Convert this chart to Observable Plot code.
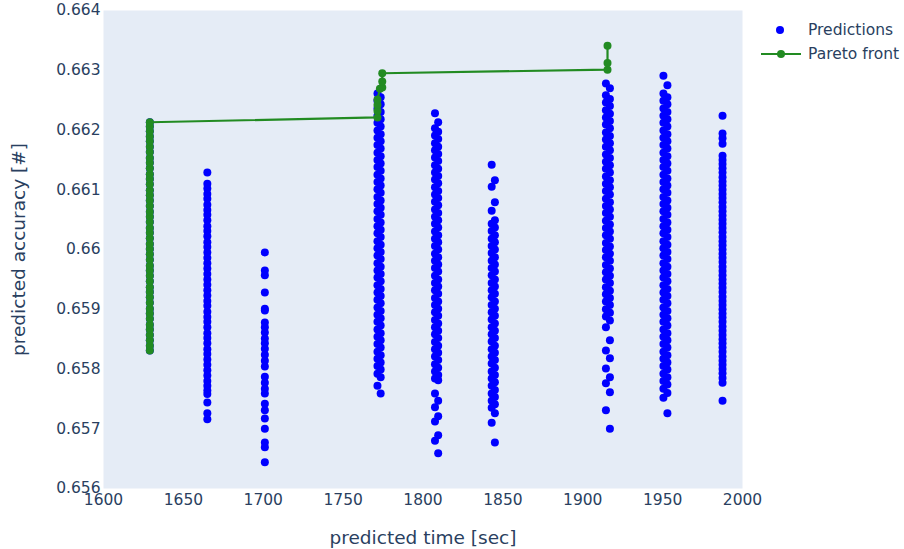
<!DOCTYPE html>
<html><head><meta charset="utf-8">
<script src="https://cdn.jsdelivr.net/npm/d3@7"></script>
<script src="https://cdn.jsdelivr.net/npm/@observablehq/plot@0.6"></script>
<style>
body{margin:0;background:#fff;font-family:"DejaVu Sans",sans-serif;}
#wrap{position:relative;width:904px;height:549px;}
#legend{position:absolute;left:760px;top:18px;color:#2a3f5f;font-size:15.5px;font-family:"DejaVu Sans",sans-serif;}
.row{display:flex;align-items:center;height:24px;}
.row span{margin-left:7px;line-height:24px;}
</style></head><body>
<div id="wrap"><div id="chart"></div><div id="legend"></div></div>
<script>
const xTitle = "predicted time [sec]";
const yTitle = "predicted accuracy [#]";
const seriesNames = ["Predictions", "Pareto front"];
const seriesColors = ["#0000ff", "#228b22"];
const xTicks = [1600, 1650, 1700, 1750, 1800, 1850, 1900, 1950, 2000];
const xTickLabels = ["1600", "1650", "1700", "1750", "1800", "1850", "1900", "1950", "2000"];
const yTicks = [0.656, 0.657, 0.658, 0.659, 0.66, 0.661, 0.662, 0.663, 0.664];
const yTickLabels = ["0.656", "0.657", "0.658", "0.659", "0.66", "0.661", "0.662", "0.663", "0.664"];

// predicted time of each column (sub-positions inside a column)
const columnTimes = [[1629], [1665], [1701], [1771.5, 1773.5], [1807.5, 1809.5], [1843, 1845], [1914.5, 1917], [1950.5, 1953], [1987.5]];

const col1629 = [0.65831, 0.65839, 0.65848, 0.65857, 0.65866, 0.65874, 0.65884, 0.65893, 0.65901, 0.65911, 0.65920, 0.65929, 0.65937, 0.65947, 0.65956, 0.65965, 0.65973, 0.65983, 0.65992, 0.66001, 0.66009, 0.66019, 0.66028, 0.66036, 0.66046, 0.66055, 0.66063, 0.66073, 0.66082, 0.66091, 0.66099, 0.66109, 0.66118, 0.66126, 0.66136, 0.66145, 0.66153, 0.66163, 0.66172, 0.66181, 0.66189, 0.66198, 0.66206, 0.66213];
const col1665 = [0.66129, 0.66110, 0.66102, 0.66093, 0.66085, 0.66075, 0.66066, 0.66058, 0.66049, 0.66039, 0.66031, 0.66022, 0.66012, 0.66004, 0.65995, 0.65986, 0.65977, 0.65968, 0.65959, 0.65950, 0.65941, 0.65932, 0.65923, 0.65914, 0.65906, 0.65896, 0.65887, 0.65879, 0.65870, 0.65860, 0.65852, 0.65843, 0.65833, 0.65825, 0.65816, 0.65807, 0.65798, 0.65789, 0.65780, 0.65772, 0.65764, 0.65758, 0.65744, 0.65726, 0.65716];
const col1701 = [0.65995, 0.65965, 0.65957, 0.65928, 0.65901, 0.65898, 0.65878, 0.65870, 0.65861, 0.65851, 0.65843, 0.65834, 0.65824, 0.65814, 0.65804, 0.65787, 0.65777, 0.65767, 0.65759, 0.65742, 0.65731, 0.65717, 0.65700, 0.65677, 0.65669, 0.65644];
const col1772 = [0.66261, 0.66255, 0.66249, 0.66243, 0.66236, 0.66230, 0.66224, 0.66218, 0.66212, 0.66206,
  0.66199, 0.66193, 0.66187, 0.66181, 0.66175, 0.66169, 0.66162, 0.66156, 0.66150, 0.66144,
  0.66138, 0.66132, 0.66125, 0.66119, 0.66113, 0.66107, 0.66101, 0.66095, 0.66088, 0.66082,
  0.66076, 0.66070, 0.66064, 0.66058, 0.66051, 0.66045, 0.66039, 0.66033, 0.66027, 0.66021,
  0.66014, 0.66008, 0.66002, 0.65996, 0.65990, 0.65984, 0.65977, 0.65971, 0.65965, 0.65959,
  0.65953, 0.65947, 0.65940, 0.65934, 0.65928, 0.65922, 0.65916, 0.65910, 0.65903, 0.65897,
  0.65891, 0.65885, 0.65879, 0.65873, 0.65866, 0.65860, 0.65854, 0.65848, 0.65842, 0.65836,
  0.65829, 0.65823, 0.65817, 0.65811, 0.65805, 0.65799, 0.65792, 0.65786, 0.65772, 0.65759];
const col1809 = [0.66228, 0.66213, 0.66203, 0.66197, 0.66191, 0.66185, 0.66178, 0.66172, 0.66166, 0.66160, 0.66154, 0.66148,
  0.66141, 0.66135, 0.66129, 0.66123, 0.66117, 0.66111, 0.66104, 0.66098, 0.66092, 0.66086, 0.66080, 0.66074,
  0.66067, 0.66061, 0.66055, 0.66049, 0.66043, 0.66037, 0.66030, 0.66024, 0.66018, 0.66012, 0.66006, 0.66000,
  0.65993, 0.65987, 0.65981, 0.65975, 0.65969, 0.65963, 0.65956, 0.65950, 0.65944, 0.65938, 0.65932, 0.65926,
  0.65919, 0.65913, 0.65907, 0.65901, 0.65895, 0.65889, 0.65882, 0.65876, 0.65870, 0.65864, 0.65858, 0.65852,
  0.65845, 0.65839, 0.65833, 0.65827, 0.65821, 0.65815, 0.65808, 0.65802, 0.65796, 0.65790, 0.65784, 0.65781,
  0.65759, 0.65747, 0.65736, 0.65721, 0.65712, 0.65689, 0.65680, 0.65659];
const col1844 = [0.66142, 0.66116, 0.66105, 0.66079, 0.66065,
  0.66049, 0.66043, 0.66037, 0.66031, 0.66024, 0.66018, 0.66012, 0.66006, 0.66000, 0.65994,
  0.65987, 0.65981, 0.65975, 0.65969, 0.65963, 0.65957, 0.65950, 0.65944, 0.65938, 0.65932,
  0.65926, 0.65920, 0.65913, 0.65907, 0.65901, 0.65895, 0.65889, 0.65883, 0.65876, 0.65870,
  0.65864, 0.65858, 0.65852, 0.65846, 0.65839, 0.65833, 0.65827, 0.65821, 0.65815, 0.65809,
  0.65802, 0.65796, 0.65790, 0.65784, 0.65778, 0.65772, 0.65765, 0.65759, 0.65753, 0.65747,
  0.65741, 0.65735, 0.65726, 0.65710, 0.65677];
const col1916 = [0.66278, 0.66270,
  0.66258, 0.66252, 0.66246, 0.66240, 0.66233, 0.66227, 0.66221, 0.66215, 0.66209, 0.66203,
  0.66196, 0.66190, 0.66184, 0.66178, 0.66172, 0.66166, 0.66159, 0.66153, 0.66147, 0.66141,
  0.66135, 0.66129, 0.66122, 0.66116, 0.66110, 0.66104, 0.66098, 0.66092, 0.66085, 0.66079,
  0.66073, 0.66067, 0.66061, 0.66055, 0.66048, 0.66042, 0.66036, 0.66030, 0.66024, 0.66018,
  0.66011, 0.66005, 0.65999, 0.65993, 0.65987, 0.65981, 0.65974, 0.65968, 0.65962, 0.65956,
  0.65950, 0.65944, 0.65937, 0.65931, 0.65925, 0.65919, 0.65913, 0.65907, 0.65900, 0.65894,
  0.65888, 0.65881,
  0.65870, 0.65848, 0.65831, 0.65818, 0.65801, 0.65786, 0.65776, 0.65761, 0.65731, 0.65700];
const col1952 = [0.66291, 0.66275,
  0.66261, 0.66255, 0.66249, 0.66243, 0.66236, 0.66230, 0.66224, 0.66218, 0.66212, 0.66206,
  0.66199, 0.66193, 0.66187, 0.66181, 0.66175, 0.66169, 0.66162, 0.66156, 0.66150, 0.66144,
  0.66138, 0.66132, 0.66125, 0.66119, 0.66113, 0.66107, 0.66101, 0.66095, 0.66088, 0.66082,
  0.66076, 0.66070, 0.66064, 0.66058, 0.66051, 0.66045, 0.66039, 0.66033, 0.66027, 0.66021,
  0.66014, 0.66008, 0.66002, 0.65996, 0.65990, 0.65984, 0.65977, 0.65971, 0.65965, 0.65959,
  0.65953, 0.65947, 0.65940, 0.65934, 0.65928, 0.65922, 0.65916, 0.65910, 0.65903, 0.65897,
  0.65891, 0.65885, 0.65879, 0.65873, 0.65866, 0.65860, 0.65854, 0.65848, 0.65842, 0.65836,
  0.65829, 0.65823, 0.65817, 0.65811, 0.65805, 0.65799, 0.65792, 0.65786, 0.65780, 0.65774,
  0.65767, 0.65760, 0.65752, 0.65726];
const col1988 = [0.66224, 0.66194, 0.66186, 0.66177, 0.66157, 0.66150, 0.66143, 0.66136, 0.66129, 0.66121, 0.66114, 0.66107, 0.66100,
  0.66093, 0.66086, 0.66079, 0.66071, 0.66064, 0.66057, 0.66050, 0.66043, 0.66036, 0.66029, 0.66021, 0.66014,
  0.66007, 0.66000, 0.65993, 0.65986, 0.65979, 0.65971, 0.65964, 0.65957, 0.65950, 0.65943, 0.65936, 0.65929,
  0.65921, 0.65914, 0.65907, 0.65900, 0.65893, 0.65886, 0.65879, 0.65871, 0.65864, 0.65857, 0.65850, 0.65843,
  0.65836, 0.65829, 0.65821, 0.65814, 0.65807, 0.65800, 0.65793, 0.65785, 0.65777, 0.65747];
const columnAcc = [col1629, col1665, col1701, col1772, col1809, col1844, col1916, col1952, col1988];

// Pareto front: the 1629 s column, then the later steps
const frontStartTime = 1629;
const frontTailTime = [1771.5, 1771.5, 1771.5, 1771.5, 1773, 1774.5, 1774.5, 1774.5, 1915.5, 1915.5, 1915.5];
const frontTailAcc = [0.66221, 0.66232, 0.66242, 0.66251, 0.66269, 0.66271, 0.66281, 0.66295, 0.66301, 0.66312, 0.66341];

const predictions = columnAcc.flatMap((ys, c) => ys.map((acc, i) => ({time: columnTimes[c][i % columnTimes[c].length], acc})));
const front = [
  ...col1629.map(acc => ({time: frontStartTime, acc})),
  ...frontTailTime.map((time, i) => ({time, acc: frontTailAcc[i]}))
];

const ink = "#2a3f5f";
const chart = Plot.plot({
  width: 904, height: 549,
  marginLeft: 103, marginRight: 162, marginTop: 10, marginBottom: 61,
  style: {fontFamily: "DejaVu Sans", fontSize: "15.5px", color: ink, background: "white", overflow: "visible"},
  x: {domain: [1600, 2000]},
  y: {domain: [0.656, 0.664]},
  marks: [
    Plot.frame({fill: "#e5ecf6", stroke: "none"}),
    Plot.axisX({ticks: xTicks, tickSize: 0, tickPadding: 5, label: null, tickFormat: d => xTickLabels[xTicks.indexOf(d)], fill: ink}),
    Plot.axisY({ticks: yTicks, tickSize: 0, tickPadding: 3, label: null, tickFormat: d => yTickLabels[yTicks.findIndex(t => Math.abs(t - d) < 1e-9)], fill: ink}),
    Plot.dot(predictions, {x: "time", y: "acc", r: 4, fill: seriesColors[0], stroke: "none"}),
    Plot.line(front, {x: "time", y: "acc", stroke: seriesColors[1], strokeWidth: 2.2}),
    Plot.dot(front, {x: "time", y: "acc", r: 4, fill: seriesColors[1], stroke: "none"}),
    Plot.text([xTitle], {text: d => d, frameAnchor: "bottom", dy: 55, fontSize: 18.5, fill: ink}),
    Plot.text([yTitle], {text: d => d, frameAnchor: "left", textAnchor: "middle", rotate: -90, dx: -84, fontSize: 18.5, fill: ink})
  ]
});
document.getElementById("chart").appendChild(chart);

const legend = document.getElementById("legend");
seriesNames.forEach((name, i) => {
  const row = document.createElement("div");
  row.className = "row";
  const sym = i === 0
    ? `<svg width="41" height="24"><circle cx="20" cy="12" r="4" fill="${seriesColors[0]}"/></svg>`
    : `<svg width="41" height="24"><line x1="1" x2="41" y1="12" y2="12" stroke="${seriesColors[1]}" stroke-width="2"/><circle cx="21" cy="12" r="4" fill="${seriesColors[1]}"/></svg>`;
  row.innerHTML = sym + `<span>${name}</span>`;
  legend.appendChild(row);
});
</script>
</body></html>
